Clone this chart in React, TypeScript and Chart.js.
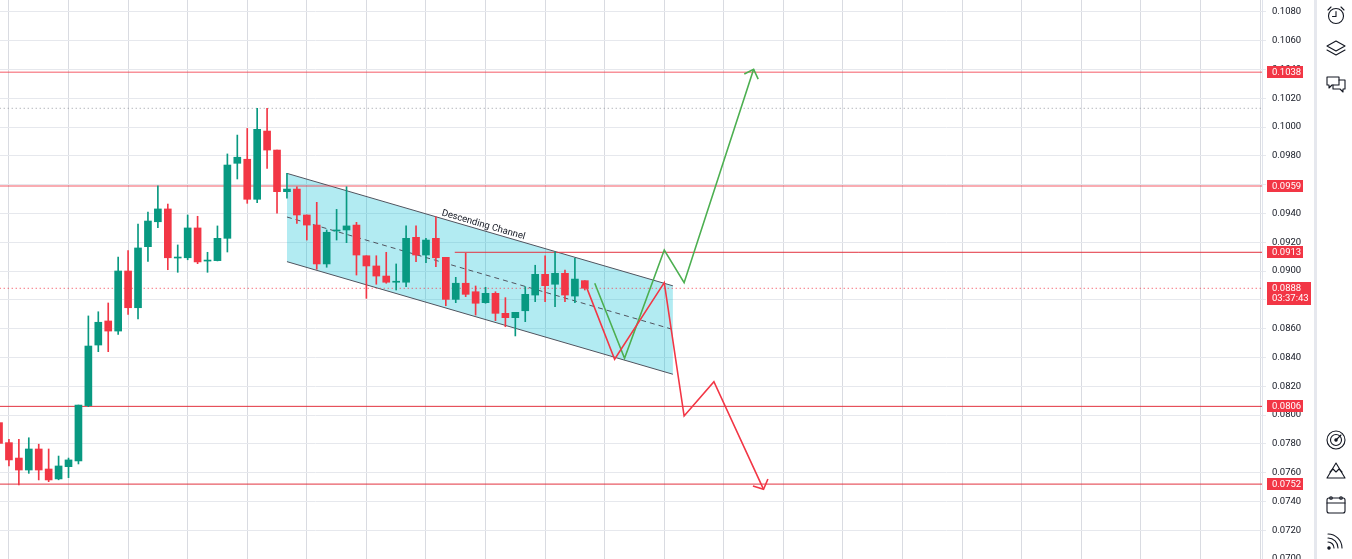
import React, { useRef, useEffect } from 'react';
import { Chart, registerables } from 'chart.js';

Chart.register(...registerables);

// candle data, one entry per bar (index = bar number)
const opens = [
  0.07947, 0.07808, 0.07701, 0.07618, 0.07764, 0.07625, 0.07556, 0.07641, 0.07681, 0.08065,
  0.08486, 0.08653, 0.08583, 0.09000, 0.08745, 0.09169, 0.09342, 0.09431, 0.09090, 0.09092,
  0.09299, 0.09069, 0.09072, 0.09227, 0.09748, 0.09776, 0.09498, 0.09972, 0.09840, 0.09551,
  0.09569, 0.09389, 0.09319, 0.09049, 0.09278, 0.09285, 0.09319, 0.09106, 0.09035, 0.08965,
  0.08922, 0.08922, 0.09234, 0.09111, 0.09227, 0.09095, 0.08803, 0.08915, 0.08856, 0.08780,
  0.08845, 0.08706, 0.08676, 0.08724, 0.08833, 0.08977, 0.08908, 0.08984, 0.08826, 0.08933,
];
const highs = [
  0.07979, 0.07831, 0.07831, 0.07842, 0.07797, 0.07764, 0.07715, 0.07701, 0.08069, 0.08688,
  0.08717, 0.08778, 0.09097, 0.09141, 0.09326, 0.09410, 0.09592, 0.09465, 0.09181, 0.09389,
  0.09380, 0.09130, 0.09313, 0.09813, 0.09944, 0.09990, 0.10130, 0.10130, 0.09840, 0.09678,
  0.09585, 0.09389, 0.09477, 0.09285, 0.09428, 0.09585, 0.09338, 0.09106, 0.09106, 0.09130,
  0.09049, 0.09313, 0.09313, 0.09227, 0.09377, 0.09095, 0.08956, 0.09123, 0.08896, 0.08887,
  0.08856, 0.08815, 0.08713, 0.08891, 0.09040, 0.09106, 0.09134, 0.09007, 0.09088, 0.08933,
];
const lows = [
  0.07785, 0.07646, 0.07514, 0.07595, 0.07549, 0.07537, 0.07550, 0.07565, 0.07660, 0.08058,
  0.08440, 0.08440, 0.08560, 0.08699, 0.08667, 0.09067, 0.09301, 0.09009, 0.08991, 0.09078,
  0.09051, 0.08991, 0.09070, 0.09132, 0.09639, 0.09470, 0.09474, 0.09713, 0.09401, 0.09505,
  0.09331, 0.09215, 0.09012, 0.09026, 0.09215, 0.09197, 0.08972, 0.08810, 0.08908, 0.08915,
  0.08868, 0.08891, 0.09065, 0.09058, 0.09030, 0.08759, 0.08780, 0.08822, 0.08694, 0.08776,
  0.08655, 0.08613, 0.08549, 0.08648, 0.08787, 0.08787, 0.08752, 0.08787, 0.08780, 0.08868,
];
const closes = [
  0.07803, 0.07688, 0.07618, 0.07764, 0.07618, 0.07549, 0.07646, 0.07688, 0.08069, 0.08479,
  0.08644, 0.08583, 0.09000, 0.08745, 0.09160, 0.09347, 0.09431, 0.09092, 0.09097, 0.09299,
  0.09063, 0.09073, 0.09227, 0.09736, 0.09790, 0.09498, 0.09984, 0.09840, 0.09551, 0.09569,
  0.09389, 0.09319, 0.09049, 0.09269, 0.09281, 0.09313, 0.09111, 0.09035, 0.08965, 0.08922,
  0.08925, 0.09227, 0.09111, 0.09215, 0.09092, 0.08803, 0.08915, 0.08838, 0.08776, 0.08845,
  0.08706, 0.08676, 0.08713, 0.08838, 0.08977, 0.08898, 0.08984, 0.08833, 0.08944, 0.08880,
];

const yTicks = [
  0.070, 0.072, 0.074, 0.076, 0.078, 0.080, 0.082, 0.084, 0.086, 0.088,
  0.090, 0.092, 0.094, 0.096, 0.098, 0.100, 0.102, 0.104, 0.106, 0.108,
];
const xGridTicks = [1, 7, 13, 19, 25, 31, 37, 43, 49, 55, 61, 67, 73, 79, 85, 91, 97, 103, 109, 115, 121, 127];

// descending channel
const channelX = [29, 67.87];
const channelTop = [0.09678, 0.08897];
const channelMid = [0.09375, 0.08594];
const channelBottom = [0.09065, 0.08283];
const channelCaption = 'Descending Channel';

// projected paths
const bearX = [59.1, 62, 67, 69, 72, 77];
const bearY = [0.0890, 0.08387, 0.08919, 0.07993, 0.08231, 0.07484];
const bearHeadX = [75.93, 77, 77.44];
const bearHeadY = [0.07507, 0.07484, 0.07556];
const bullX = [60, 63, 67, 69, 76];
const bullY = [0.08915, 0.08394, 0.09146, 0.08919, 0.10401];
const bullHeadX = [75.06, 76, 76.46];
const bullHeadY = [0.10368, 0.10401, 0.10333];

// horizontal levels
const levels = [0.1038, 0.0959, 0.0913, 0.0806, 0.0752];
const levelStart = [-10, -10, 45.9, -10, -10];
const swingHigh = 0.1013;
const lastPrice = 0.0888;
const countdown = '03:37:43';

const UP = '#089981';
const DOWN = '#f23645';
const X_MIN = 0.1;
const X_MAX = 127.2;

const levelStyle = [
  { color: 'rgba(242,54,69,0.55)', width: 1.5 },
  { color: 'rgba(242,54,69,0.55)', width: 1.5 },
  { color: '#e2323f', width: 1 },
  { color: '#e2323f', width: 1 },
  { color: '#e2323f', width: 1 },
];

const pts = (xs: number[], ys: number[]) => xs.map((x, i) => ({ x, y: ys[i] }));

const overlayPlugin = {
  id: 'overlay',
  afterDatasetsDraw(chart: any) {
    const { ctx, scales } = chart;
    const x = scales.x;
    const y = scales.y;
    const x1 = x.getPixelForValue(channelX[0]);
    const y1 = y.getPixelForValue(channelTop[0]);
    const x2 = x.getPixelForValue(channelX[1]);
    const y2 = y.getPixelForValue(channelTop[1]);
    const ang = Math.atan2(y2 - y1, x2 - x1);
    ctx.save();
    ctx.translate(x1 + (x2 - x1) * 0.505, y1 + (y2 - y1) * 0.505);
    ctx.rotate(ang);
    ctx.font = '9.5px Roboto';
    ctx.fillStyle = '#131722';
    ctx.textAlign = 'center';
    ctx.textBaseline = 'alphabetic';
    ctx.fillText(channelCaption, 0, -3);
    ctx.restore();
  },
  afterDraw(chart: any) {
    const { ctx, chartArea, scales } = chart;
    const y = scales.y;
    const left = chartArea.right + 5;
    ctx.save();
    ctx.font = '9.5px Roboto';
    ctx.textBaseline = 'middle';
    ctx.textAlign = 'left';
    levels.forEach((v) => {
      const py = Math.round(y.getPixelForValue(v));
      ctx.fillStyle = DOWN;
      ctx.fillRect(left, py - 6, 36, 12);
      ctx.fillStyle = '#ffffff';
      ctx.fillText(v.toFixed(4), left + 5, py + 0.5);
    });
    const py = Math.round(y.getPixelForValue(lastPrice));
    ctx.fillStyle = DOWN;
    ctx.fillRect(left, py - 6, 44, 23);
    ctx.fillStyle = '#ffffff';
    ctx.fillText(lastPrice.toFixed(4), left + 5, py + 0.5);
    ctx.fillText(countdown, left + 5, py + 11);
    ctx.restore();
  },
};

const CandleChart: React.FC = () => {
  const canvasRef = useRef<HTMLCanvasElement | null>(null);

  useEffect(() => {
    if (!canvasRef.current) return;
    const idx = opens.map((_, i) => i);
    const colors = idx.map((i) => (closes[i] >= opens[i] ? UP : DOWN));

    const levelSets = levels.map((v, i) => ({
      type: 'line' as const,
      data: [{ x: levelStart[i], y: v }, { x: 200, y: v }],
      borderColor: levelStyle[i].color,
      borderWidth: levelStyle[i].width,
      pointRadius: 0,
      order: 8,
    }));

    const chart = new Chart(canvasRef.current, {
      type: 'bar',
      data: {
        datasets: [
          {
            type: 'line',
            data: pts(channelX, channelTop),
            borderColor: '#50535e',
            borderWidth: 1,
            pointRadius: 0,
            fill: false,
            order: 10,
          },
          {
            type: 'line',
            data: pts(channelX, channelBottom),
            borderColor: '#50535e',
            borderWidth: 1,
            pointRadius: 0,
            fill: '-1',
            backgroundColor: 'rgba(0,188,212,0.3)',
            order: 10,
          },
          {
            type: 'line',
            data: pts(channelX, channelMid),
            borderColor: '#50535e',
            borderWidth: 1,
            borderDash: [5, 4],
            pointRadius: 0,
            order: 9,
          },
          ...levelSets,
          {
            type: 'line',
            data: [{ x: -10, y: swingHigh }, { x: 200, y: swingHigh }],
            borderColor: '#9598a1',
            borderWidth: 1,
            borderDash: [1, 3],
            pointRadius: 0,
            order: 8,
          },
          {
            type: 'line',
            data: [{ x: -10, y: lastPrice }, { x: 200, y: lastPrice }],
            borderColor: DOWN,
            borderWidth: 1,
            borderDash: [1, 3],
            pointRadius: 0,
            order: 8,
          },
          {
            type: 'bar',
            data: idx.map((i) => ({ x: i, y: [lows[i], highs[i]] })) as any,
            backgroundColor: colors,
            barThickness: 1,
            grouped: false,
            order: 5,
          },
          {
            type: 'bar',
            data: idx.map((i) => ({ x: i, y: [opens[i], closes[i]] })) as any,
            backgroundColor: colors,
            barThickness: 7,
            minBarLength: 1,
            grouped: false,
            order: 4,
          },
          {
            type: 'line',
            data: pts(bearX, bearY),
            borderColor: DOWN,
            borderWidth: 1.6,
            pointRadius: 0,
            order: 1,
          },
          {
            type: 'line',
            data: pts(bearHeadX, bearHeadY),
            borderColor: DOWN,
            borderWidth: 1.6,
            pointRadius: 0,
            order: 1,
          },
          {
            type: 'line',
            data: pts(bullX, bullY),
            borderColor: '#4caf50',
            borderWidth: 1.6,
            pointRadius: 0,
            order: 1,
          },
          {
            type: 'line',
            data: pts(bullHeadX, bullHeadY),
            borderColor: '#4caf50',
            borderWidth: 1.6,
            pointRadius: 0,
            order: 1,
          },
        ] as any,
      },
      options: {
        responsive: true,
        maintainAspectRatio: false,
        animation: false,
        layout: { padding: 0 },
        plugins: {
          legend: { display: false },
          tooltip: { enabled: false },
          title: { display: false },
        },
        scales: {
          x: {
            type: 'linear',
            min: X_MIN,
            max: X_MAX,
            offset: false,
            afterBuildTicks: (scale: any) => {
              scale.ticks = xGridTicks.map((value) => ({ value }));
            },
            afterFit: (scale: any) => {
              scale.height = 0;
              scale.paddingLeft = 0;
              scale.paddingRight = 0;
            },
            ticks: { display: false },
            grid: { color: '#d9dbe1', drawTicks: false, offset: false },
            border: { display: false },
          },
          y: {
            type: 'linear',
            position: 'right',
            min: 0.07,
            max: 0.10882,
            afterBuildTicks: (scale: any) => {
              scale.ticks = yTicks.map((value) => ({ value }));
            },
            afterFit: (scale: any) => {
              scale.width = 54;
              scale.paddingTop = 0;
              scale.paddingBottom = 0;
            },
            ticks: {
              padding: 6,
              color: '#131722',
              font: { family: 'Roboto', size: 9.5 },
              callback: (v: any) => Number(v).toFixed(4),
            },
            grid: { color: '#e6e8ed', tickLength: 4 },
            border: { display: true, color: '#e0e3eb' },
          },
        },
      },
      plugins: [overlayPlugin],
    });
    return () => {
      chart.destroy();
    };
  }, []);

  return <canvas ref={canvasRef} />;
};

const Toolbar: React.FC = () => (
  <svg width={36} height={559} style={{ display: 'block' }}>
    <g fill="none" stroke="#131722" strokeWidth={1.1} strokeLinecap="round" strokeLinejoin="round">
      {/* alarm */}
      <circle cx={19} cy={16} r={7.5} />
      <path d="M19 11.5 V16.5 H15.5" />
      <path d="M11 10 L14 7 M27 10 L24 7" />
      {/* layers */}
      <path d="M10 46 L19 41 L28 46 L19 51 Z" />
      <path d="M10 50 L19 55 L28 50" />
      {/* chat */}
      <path d="M10 77 H22 V85 H15 L12 88 V85 H10 Z" />
      <path d="M22 80 H28 V89 H26 V92 L23 89 H16 V85" />
      {/* target */}
      <circle cx={19} cy={440} r={9} />
      <circle cx={19} cy={440} r={5.5} />
      <path d="M19 440 L24 435" />
      <circle cx={19} cy={440} r={1.2} fill="#131722" />
      {/* mountains */}
      <path d="M10 478 L19 463 L28 478 Z" />
      <path d="M13 472 L16 469 L19 472 L22 469 L25 472" />
      {/* calendar */}
      <rect x={10} y={498} width={18} height={15} rx={2} />
      <path d="M10 503 H28" />
      <circle cx={14} cy={498} r={1.3} />
      <circle cx={24} cy={498} r={1.3} />
      {/* signal */}
      <circle cx={12} cy={548} r={1.2} fill="#131722" />
      <path d="M11 542 A6 6 0 0 1 17 548" />
      <path d="M11 538 A10 10 0 0 1 21 548" />
      <path d="M11 534 A14 14 0 0 1 25 548" />
    </g>
  </svg>
);

const App: React.FC = () => (
  <div style={{ position: 'fixed', left: 0, top: 0, width: 1352, height: 559, background: '#ffffff' }}>
    <div style={{ position: 'absolute', left: 0, top: 0, width: 1316, height: 559 }}>
      <CandleChart />
    </div>
    <div
      style={{
        position: 'absolute',
        left: 1314,
        top: 0,
        width: 38,
        height: 559,
        borderLeft: '3px solid #e6e8ee',
        boxSizing: 'border-box',
        background: '#ffffff',
      }}
    >
      <Toolbar />
    </div>
  </div>
);

export default App;
